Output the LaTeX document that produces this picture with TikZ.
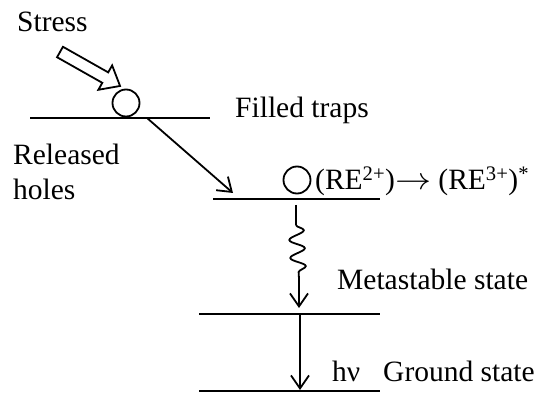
\documentclass[tikz,border=0pt]{standalone}
\usepackage{fontspec}
\setmainfont{Liberation Serif}
\usetikzlibrary{arrows.meta,decorations.pathmorphing}

\begin{document}
\begin{tikzpicture}[x=1pt,y=-1pt,
  level/.style={line width=2.6pt},
  conn/.style={line width=1.8pt},
  vee/.style={-{Straight Barb[length=13pt,width=18pt,line width=1.8pt]}},
  hole/.style={circle,draw,line width=1.8pt,minimum size=27pt,inner sep=0pt},
  lbl/.style={anchor=base west,inner sep=0pt,font=\fontsize{29.5}{34}\selectfont},
  wave/.style={decorate,decoration={snake,segment length=18pt,amplitude=7.5pt}},
  hollow/.style={draw,line width=1.8pt,fill=white,line join=miter}]
\useasboundingbox (0,0) rectangle (541,398);

% energy levels
\coordinate (trapW) at (30,118);   \coordinate (trapE) at (210,118);
\coordinate (reW)   at (213,199);  \coordinate (reE)   at (380,199);
\coordinate (metaW) at (199,314);  \coordinate (metaE) at (380,314);
\coordinate (gndW)  at (199,391);  \coordinate (gndE)  at (380,391);
\draw[level] (trapW) -- (trapE);
\draw[level] (reW) -- (reE);
\draw[level] (metaW) -- (metaE);
\draw[level] (gndW) -- (gndE);

% carriers
\node[hole] (h1) at (126,103) {};
\node[hole] (h2) at (297,180) {};

% applied stress: hollow block arrow
\begin{scope}[shift={(60,52)},rotate=-29.5]
  \draw[hollow] (0,-6) -- (52,-6) -- (52,-14) -- (69,0) -- (52,14) -- (52,6) -- (0,6) -- cycle;
\end{scope}

% hole release towards the rare-earth level
\coordinate (relA) at (147,118);
\coordinate (relB) at (233,193);
\draw[conn,vee] (relA) -- (relB);

% non-radiative relaxation
\coordinate (nrA) at (296,205);
\coordinate (nrB) at (296,225);
\coordinate (nrC) at (299,279);
\coordinate (nrD) at (299,308);
\draw[conn] (nrA) -- (nrB);
\draw[conn,wave] (nrB) -- (nrC);
\draw[conn,vee] (nrC) -- (nrD);

% radiative transition
\coordinate (emA) at (300,314);
\coordinate (emB) at (300,390);
\draw[conn,vee] (emA) -- (emB);

% labels
\node[lbl] (tStress) at (17,32) {Stress};
\node[lbl] (tFilled) at (235,118) {Filled traps};
\node[lbl] (tRel1) at (13,165) {Released};
\node[lbl] (tRel2) at (13,200) {holes};
\node[lbl] (tRE) at (315,190) {(RE\textsuperscript{2+})\scalebox{1.45}[1.25]{$\rightarrow$} (RE\textsuperscript{3+})\textsuperscript{*}};
\node[lbl] (tMeta) at (337,290) {Metastable state};
\node[lbl] (tHv) at (332,381) {hν};
\node[lbl] (tGnd) at (383,381) {Ground state};
\end{tikzpicture}
\end{document}
